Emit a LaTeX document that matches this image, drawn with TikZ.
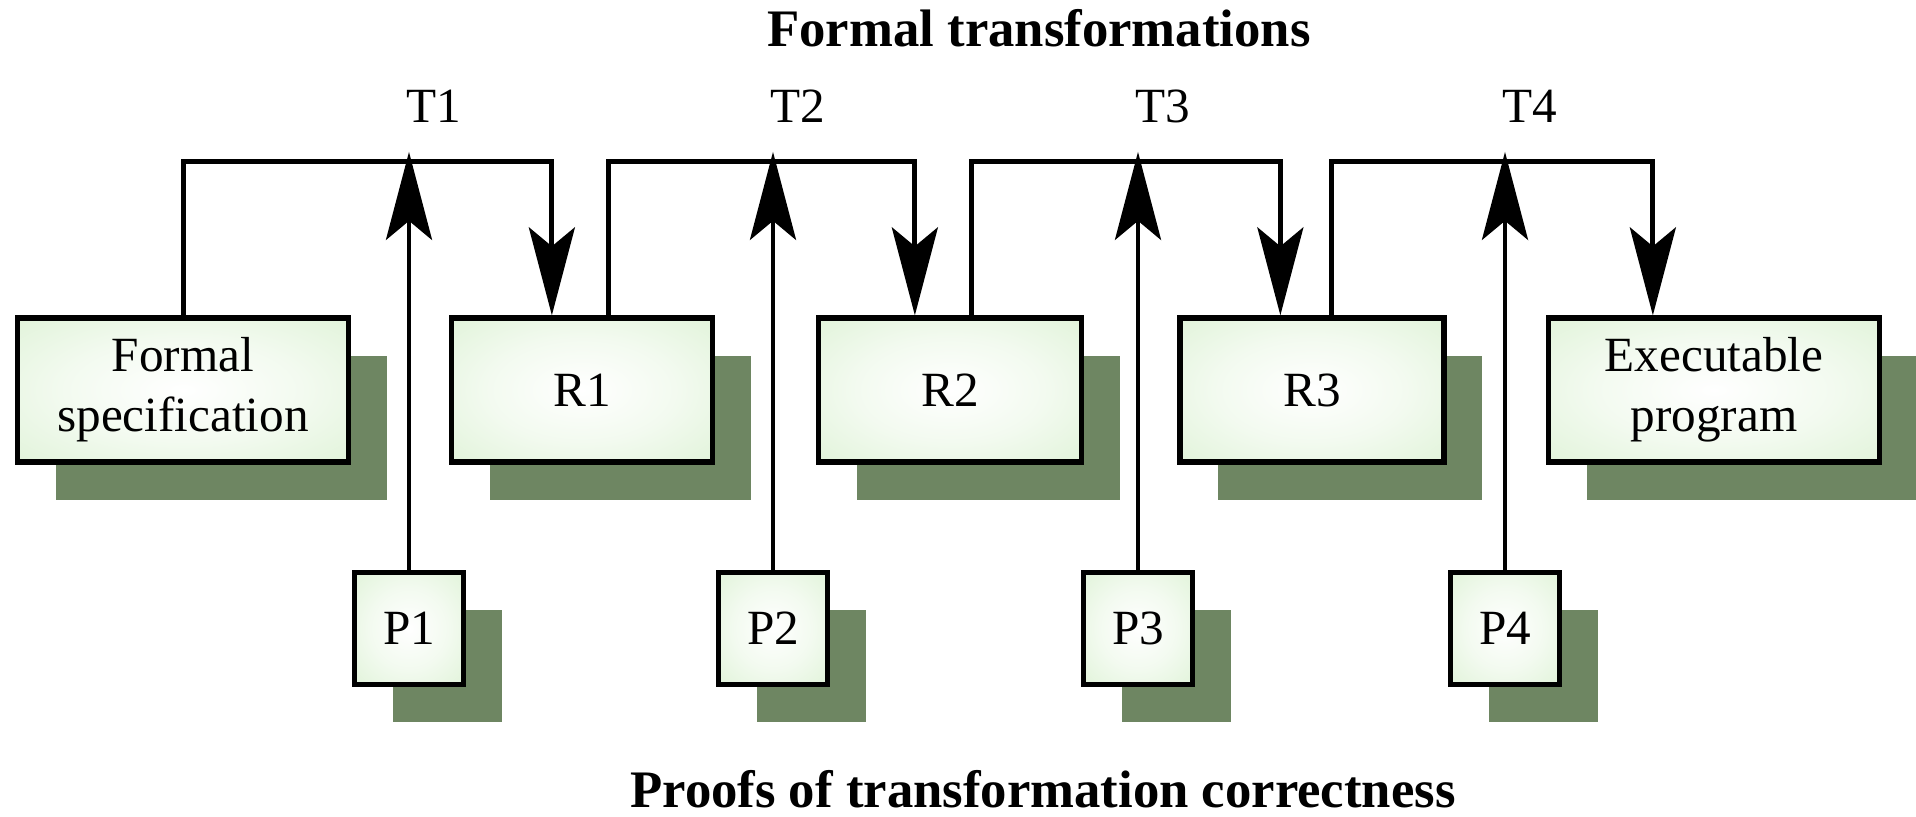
\documentclass[tikz,border=0pt]{standalone}
\usepackage{fontspec}
\setmainfont{Liberation Serif}
\usetikzlibrary{arrows.meta,shadows}

\definecolor{boxgreen}{RGB}{206,236,194}
\definecolor{shadowgreen}{RGB}{110,134,98}
\pgfdeclareradialshading{boxglow}{\pgfpoint{0bp}{0bp}}{%
  color(0bp)=(white); color(18bp)=(white!75!boxgreen);
  color(55bp)=(boxgreen); color(75bp)=(boxgreen)}

\tikzset{
  stage/.style={draw, line width=1.5pt, shade, shading=boxglow, align=center,
    font=\fontsize{14}{17}\selectfont, inner sep=0pt,
    drop shadow={shadow xshift=0.38cm, shadow yshift=-0.38cm,
      fill=shadowgreen, opacity=1}},
  bigbox/.style={stage, minimum width=#1, minimum height=1.44cm},
  proofbox/.style={stage, minimum width=1.09cm, minimum height=1.12cm},
  flow/.style={line width=1.4pt, -{Stealth[length=8.8mm, width=4.6mm, inset=1.9mm]}},
  tlabel/.style={anchor=base west, font=\fontsize{14}{17}\selectfont, inner sep=0pt},
  heading/.style={anchor=base, font=\bfseries\fontsize{15}{18}\selectfont, inner sep=0pt}
}

\begin{document}
\begin{tikzpicture}
    \useasboundingbox (0,0) rectangle (19.16,8.17);

    % refinement chain
    \node[bigbox=3.31cm] (spec) at (1.83,4.27) {Formal\\specification};
    \node[bigbox=2.61cm] (R1) at (5.82,4.27) {R1};
    \node[bigbox=2.63cm] (R2) at (9.50,4.27) {R2};
    \node[bigbox=2.64cm] (R3) at (13.12,4.27) {R3};
    \node[bigbox=3.31cm] (exec) at (17.14,4.27) {Executable\\program};

    % transformations
    \draw[flow] ([xshift=1.69cm]spec.north west) -- ++(0,1.54)
        -| ([xshift=1.03cm]R1.north west);
    \draw[flow] ([xshift=1.60cm]R1.north west) -- ++(0,1.54)
        -| ([xshift=0.99cm]R2.north west);
    \draw[flow] ([xshift=1.56cm]R2.north west) -- ++(0,1.54)
        -| ([xshift=1.03cm]R3.north west);
    \draw[flow] ([xshift=1.54cm]R3.north west) -- ++(0,1.54)
        -| ([xshift=1.07cm]exec.north west);

    % proofs
    \foreach \i/\x in {1/4.09, 2/7.73, 3/11.38, 4/15.05} {
        \node[proofbox] (P\i) at (\x,1.885) {P\i};
        \draw[flow] (P\i.north) -- ++(0,4.18);
        \node[tlabel] (T\i) at (\x-0.03,6.94) {T\i};
    }

    \node[heading] (title) at (10.39,7.70) {Formal transformations};
    \node[heading] (proofs) at (10.43,0.09) {Proofs of transformation correctness};
\end{tikzpicture}
\end{document}
